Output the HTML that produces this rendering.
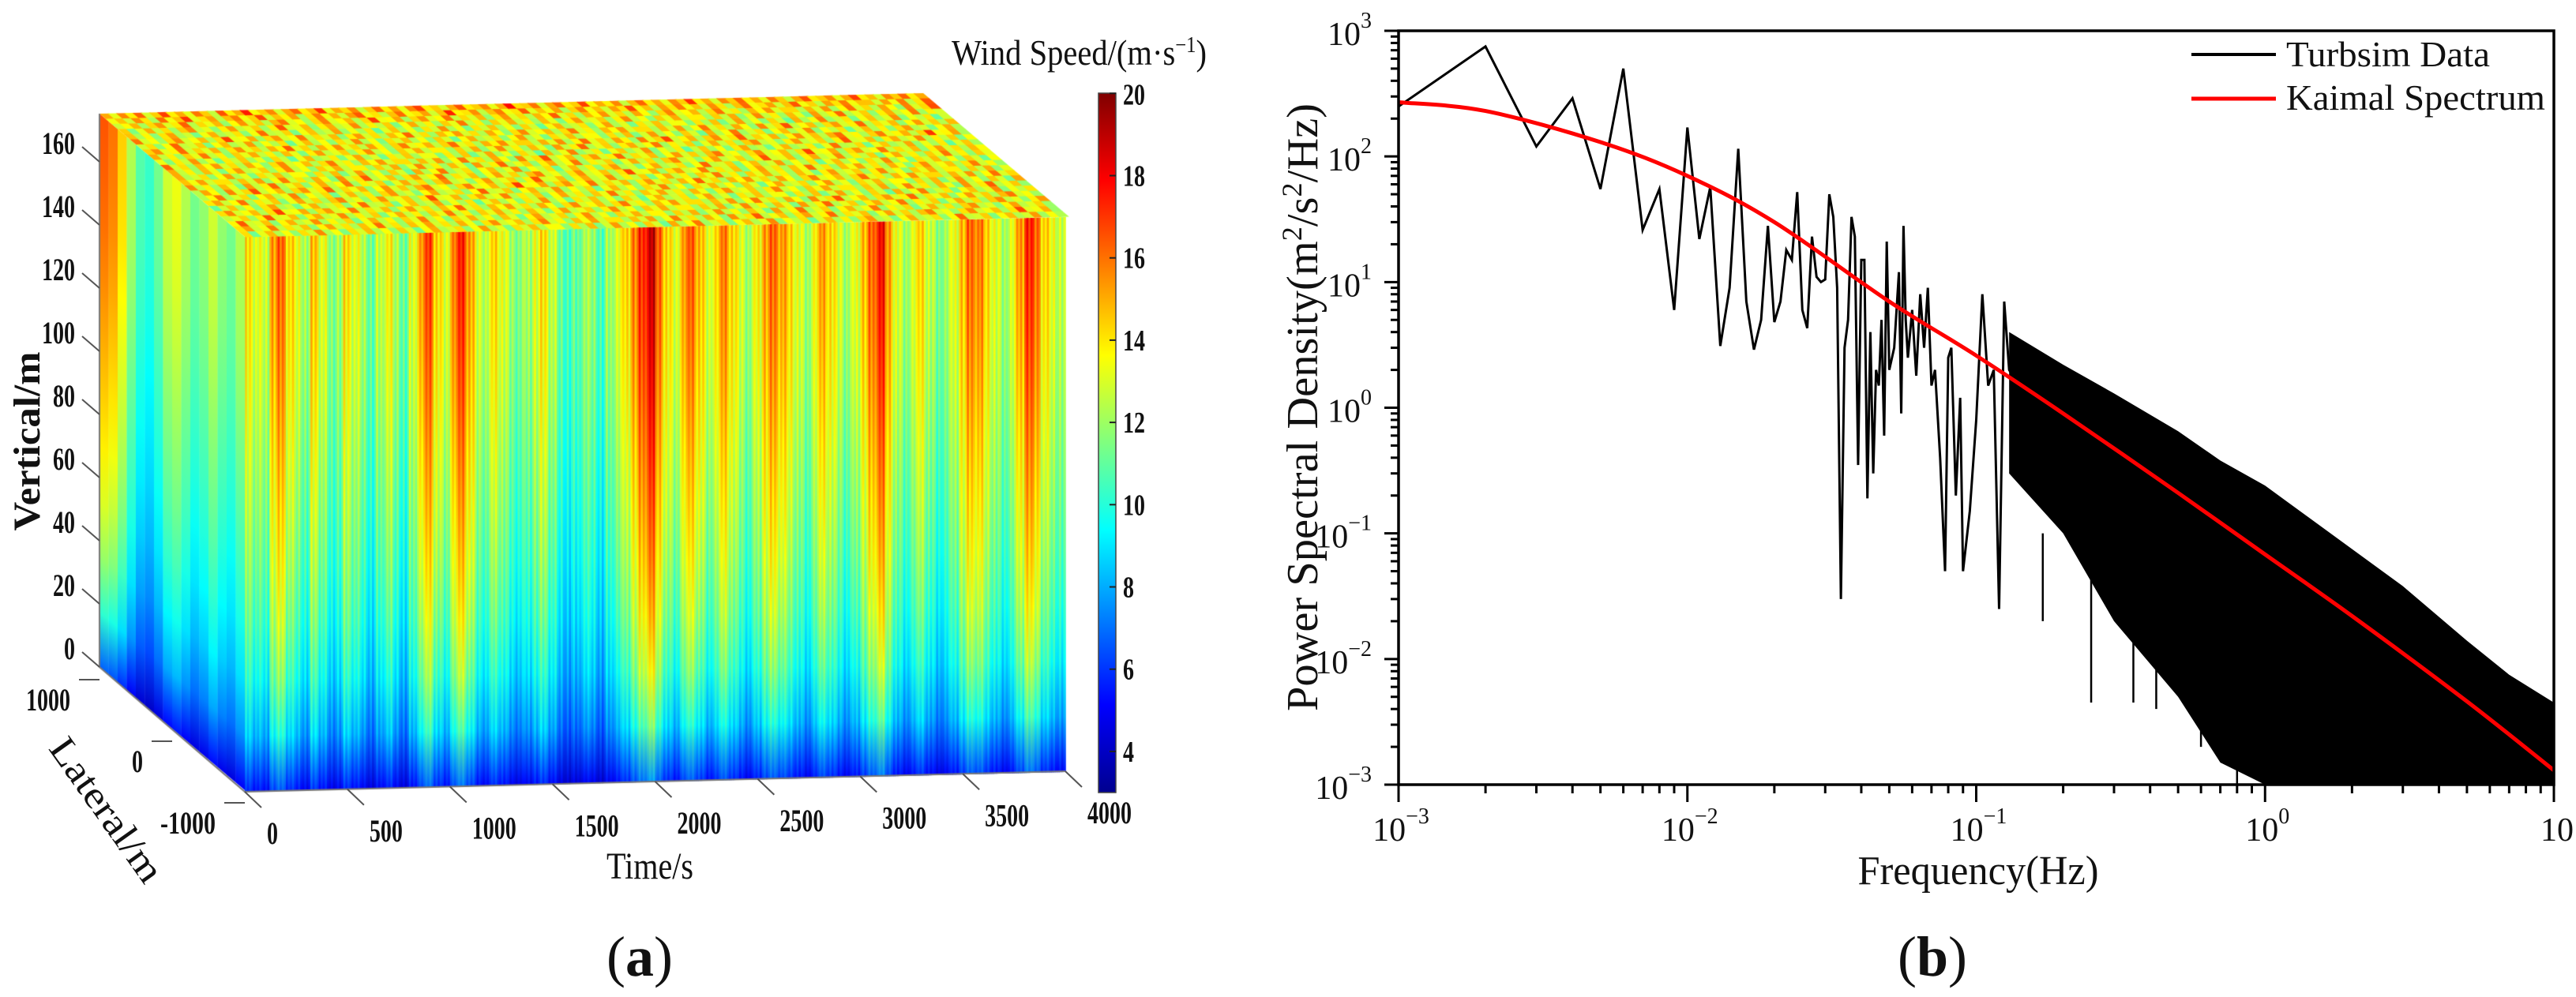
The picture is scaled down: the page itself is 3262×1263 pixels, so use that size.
<!DOCTYPE html>
<html>
<head>
<meta charset="utf-8">
<style>
html,body{margin:0;padding:0;background:#fff;}
#wrap{position:relative;width:3262px;height:1263px;overflow:hidden;background:#fff;}
canvas,svg{position:absolute;left:0;top:0;}
svg text{font-family:"Liberation Serif","Times New Roman",serif;fill:#111;}
</style>
</head>
<body>
<div id="wrap">
<canvas id="cube" width="1500" height="1100"></canvas>
<svg id="svg" width="3262" height="1263" viewBox="0 0 3262 1263" font-family="Liberation Serif, serif">
  <defs>
    <linearGradient id="jetbar" x1="0" y1="1" x2="0" y2="0">
      <stop offset="0" stop-color="#00008f"/>
      <stop offset="0.125" stop-color="#0000ff"/>
      <stop offset="0.375" stop-color="#00ffff"/>
      <stop offset="0.625" stop-color="#ffff00"/>
      <stop offset="0.875" stop-color="#ff0000"/>
      <stop offset="1" stop-color="#800000"/>
    </linearGradient>
  </defs>
  <g id="leftAxes"></g>
  <g id="rightAxes"></g>
  <text x="810" y="1236" text-anchor="middle" font-size="72" font-family="Liberation Serif, serif">(<tspan font-weight="bold">a</tspan>)</text>
  <text x="2447" y="1236" text-anchor="middle" font-size="72" font-family="Liberation Serif, serif">(<tspan font-weight="bold">b</tspan>)</text>
</svg>
</div>
<script>
// ---------------- Left panel data ----------------
const timeVals = [14,13,12.5,15,16,14,13,12,14.5,13,11.5,12,14,13,12,11,12.5,13.5,12,11,
 13,15,16.5,14,13,15.5,17,15,13,12.5,14,13,12,11.5,12,13,14,12.5,11,10.5,
 11,12,11.5,10.5,12,13,14,15.5,17,18.5,16,14,13,15,16,14.5,13,14,15.5,14,
 13,12,13.5,15,16,15,14,13,12,13.5,15,14,13,12,13,14.5,16,17.5,15,13,
 12,13,14,12.5,11.5,12,13,14.5,16,15.5,14,13,12,13,15,17,16,14,13,12.5];
const fineVar = [0.7,-0.9,0.3,-0.5];
const profZ = [0,10,20,40,60,80,100,120,140,160,175];
const profF = [0.42,0.55,0.66,0.77,0.84,0.89,0.93,0.97,1.0,1.02,1.03];
const latVals = [16,15.5,14,12,10.5,10,11,12.5,13,12,11,11.5,12.5,11.5,11,12];
const topVals = [14,11,15,12,16,10.5,13,17,12,14,11,15.5,13,10,16.5,12,14,18,11.5,13,
 15,10.5,14,16,12,13.5,17.5,11,14,12.5,15,10,13,16,12,14.5,11,15,17,12,
 13,10.5,14,16.5,12,13,15,11,14,18.5,12.5,13,15.5,10.5,14,16,12,13,17,11.5,
 14,12,15,10,13.5,16,12,14,11,15,13,17.5,12,14,10.5,15,13,16,12,14,
 11,15.5,13,10,14,16.5,12,13,15,11,14,17,12,13.5,10.5,15,13,16,12,14];
const latDelta = [1.2,0.8,0.4,0,-0.4,0.3,-0.3,0.5,0,-0.5,0.3,0,-0.3,0.2,0,0.4,-0.2,0.1,-0.4,0.3,0,-0.1,0.2,-0.3];
const cbTicks = [4,6,8,10,12,14,16,18,20];
const vTicks = [0,20,40,60,80,100,120,140,160];
const latTicks = [1000,0,-1000];
const tTicks = [0,500,1000,1500,2000,2500,3000,3500,4000];

function jet(v){
  let t=(v-3)/17; t=Math.max(0,Math.min(1,t));
  const c=x=>Math.round(255*Math.max(0,Math.min(1,x)));
  return `rgb(${c(1.5-Math.abs(4*t-3))},${c(1.5-Math.abs(4*t-2))},${c(1.5-Math.abs(4*t-1))})`;
}
function prof(z){
  for(let i=1;i<profZ.length;i++){ if(z<=profZ[i]){const a=(z-profZ[i-1])/(profZ[i]-profZ[i-1]);return profF[i-1]+a*(profF[i]-profF[i-1]);} }
  return profF[profF.length-1];
}
const ctx=document.getElementById('cube').getContext('2d');
function colGrad(base){
  const g=ctx.createLinearGradient(0,0,0,1);
  for(let k=0;k<=10;k++){const z=175*(1-k/10);g.addColorStop(k/10,jet(base*prof(z)));}
  return g;
}
// front face
ctx.setTransform(1039,-25,0,703,310,300);
const nT=timeVals.length, sub=fineVar.length;
for(let i=0;i<nT;i++){
  for(let s=0;s<sub;s++){
    const u0=(i*sub+s)/(nT*sub);
    ctx.fillStyle=colGrad(timeVals[i]+fineVar[(s+i)%sub]);
    ctx.fillRect(u0,0,1/(nT*sub)+0.0008,1);
  }
}
// side face
ctx.setTransform(184,156,0,701,126,144);
const nL=latVals.length;
for(let j=0;j<nL;j++){
  ctx.fillStyle=colGrad(latVals[j]);
  ctx.fillRect(j/nL,0,1/nL+0.002,1);
}
// top face
ctx.setTransform(1041,-26,184,156,126,144);
const nR=latDelta.length;
for(let i=0;i<nT;i++){
  for(let j=0;j<nR;j++){
    const raw=topVals[(i+7*j+(j*j)%11)%nT];
    ctx.fillStyle=jet(13.6+(raw-13.6)*0.6+latDelta[j]);
    ctx.fillRect(i/nT,j/nR,1/nT+0.002,1/nR+0.004);
  }
}
ctx.setTransform(1,0,0,1,0,0);
ctx.strokeStyle='#777';ctx.lineWidth=2;
ctx.beginPath();ctx.moveTo(126,144);ctx.lineTo(126,845);ctx.lineTo(310,1003);ctx.lineTo(1349,977);ctx.stroke();

const NS='http://www.w3.org/2000/svg';
function el(tag,attrs,parent,txt){const e=document.createElementNS(NS,tag);for(const k in attrs)e.setAttribute(k,attrs[k]);if(tag==='text')e.setAttribute('font-family','Liberation Serif, serif');if(txt!==undefined)e.textContent=txt;parent.appendChild(e);return e;}
const L=document.getElementById('leftAxes');
const zY=z=>845-z*4;
vTicks.forEach(v=>{
  const t=el('line',{x1:104,y1:zY(v)-19,x2:126,y2:zY(v),stroke:'#555','stroke-width':2},L);
  
  
  const lb=el('text',{x:95,y:zY(v)-10,'text-anchor':'end','font-size':40,'font-weight':'bold',textLength:String(v).length*14,lengthAdjust:'spacingAndGlyphs'},L,String(v));
  
  
});
const latPos=v=>{const a=(1000-v)/2000;return {x:126+a*184,y:845+a*156};};
latTicks.forEach(v=>{
  const p=latPos(v);
  const t=el('line',{x1:p.x-26,y1:p.y+16,x2:p.x,y2:p.y+16,stroke:'#555','stroke-width':2},L);
  
  
  const lb=el('text',{x:p.x-37,y:p.y+55,'text-anchor':'end','font-size':40,'font-weight':'bold',textLength:String(v).length*14,lengthAdjust:'spacingAndGlyphs'},L,String(v));
  
  
});
const tPos=v=>({x:310+v/4000*1039,y:1003-v/4000*26});
tTicks.forEach(v=>{
  const p=tPos(v);
  const t=el('line',{x1:p.x,y1:p.y,x2:p.x+21,y2:p.y+20,stroke:'#555','stroke-width':2},L);
  
  
  const lb=el('text',{x:p.x+28,y:p.y+66,'font-size':40,'font-weight':'bold',textLength:String(v).length*14,lengthAdjust:'spacingAndGlyphs'},L,String(v));
  
  
});
let tl=el('text',{x:823,y:1113,'text-anchor':'middle','font-size':48,textLength:110,lengthAdjust:'spacingAndGlyphs'},L,'Time/s');

tl=el('text',{x:0,y:0,'text-anchor':'middle','font-size':48,'font-weight':'bold',textLength:227,lengthAdjust:'spacingAndGlyphs',transform:'translate(50,559) rotate(-90)'},L,'Vertical/m');

tl=el('text',{x:0,y:0,'text-anchor':'middle','font-size':48,textLength:213,lengthAdjust:'spacingAndGlyphs',transform:'translate(122,1035) rotate(54.7)'},L,'Lateral/m');

const cbY=v=>1004-(v-3)*52.1;
el('rect',{x:1391,y:118,width:22,height:886,fill:'url(#jetbar)',stroke:'#444','stroke-width':1.5,},L);
cbTicks.forEach(v=>{
  const t=el('line',{x1:1405,y1:cbY(v),x2:1413,y2:cbY(v),stroke:'#222','stroke-width':2},L);
  
  
  const lb=el('text',{x:1422,y:cbY(v)+(v===20?14:13),'font-size':38,'font-weight':'bold',textLength:String(v).length*14,lengthAdjust:'spacingAndGlyphs'},L,String(v));
  
  
});
tl=el('text',{x:1205,y:82,'font-size':46,textLength:323,lengthAdjust:'spacingAndGlyphs'},L);
tl.innerHTML='Wind Speed/(m·s<tspan dy="-16" font-size="28">−1</tspan><tspan dy="16">)</tspan>';


// ---------------- Right panel data ----------------
const sparseF=[.001,.002,.003,.004,.005,.006,.007,.008,.009,.010,.011,.012,.013,.014,.015,.016,.017,.018,.019,.020,
 .021,.022,.023,.024,.025,.026,.027,.028,.029,.030,.031,.032,.033,.034,.035,.036,.037,.038,.039,.040,
 .041,.042,.043,.044,.045,.046,.047,.048,.049,.050,.052,.054,.055,.056,.057,.058,.060,.062,.064,.066,
 .068,.070,.072,.075,.078,.080,.082,.085,.088,.090,.095,.100,.105,.110,.115,.120,.125,.130,.140,.150];
const sparseP=[250,750,120,290,55,500,26,55,6,170,22,57,3.1,9,115,7,2.9,5,28,4.8,
 7,18,15,52,6,4.3,23,11,10,10.5,50,33,9,0.03,3,5,33,23,0.35,15,
 15,0.19,4,0.3,2,1.5,5,0.6,21,2,3,12,0.9,28,5,2.5,6,1.8,8,3,
 9,1.5,2,0.4,0.05,2.5,3,0.2,1.2,0.05,0.15,0.8,8,1.5,2,0.025,7,2,1.5,0.5];
const bandF=[0.13,0.2,0.3,0.5,0.7,1,2,3,5,7,10];
const bandUpper=[4,2.2,1.3,0.65,0.38,0.24,0.075,0.038,0.014,0.0075,0.0045];
const bandLower=[0.3,0.1,0.02,0.005,0.0015,0.001,0.001,0.001,0.001,0.001,0.001];
const spikeF=[0.17,0.25,0.35,0.42,0.6,0.8];
const spikeP=[0.02,0.0045,0.0045,0.004,0.002,0.001];
const kaimalF=[0.001,0.002,0.005,0.01,0.02,0.05,0.1,0.2,0.5,1,2,5,10];
const kaimalP=[270,230,130,70,30,7,2.6,0.9,0.21,0.068,0.022,0.0046,0.0013];
const xTickExp=[-3,-2,-1,0];
const yTickExp=[-3,-2,-1,0,1,2,3];

const AX={l:1771,r:3234,t:39,b:994};
const X=f=>AX.l+(Math.log10(f)+3)/4*(AX.r-AX.l);
const Y=p=>AX.b-(Math.log10(p)+3)/6*(AX.b-AX.t);
const R=document.getElementById('rightAxes');
let pts=bandF.map((f,i)=>X(f)+','+Y(bandUpper[i]));
for(let i=bandF.length-1;i>=0;i--)pts.push(X(bandF[i])+','+Y(bandLower[i]));
el('polygon',{points:pts.join(' '),fill:'#000',},R);
spikeF.forEach((f,i)=>{
  const s=el('line',{x1:X(f),y1:Y(0.1),x2:X(f),y2:Y(spikeP[i]),stroke:'#000','stroke-width':2.5},R);
  
  
});
el('polyline',{points:sparseF.map((f,i)=>X(f)+','+Y(sparseP[i])).join(' '),fill:'none',stroke:'#000','stroke-width':3,},R);
const kp=kaimalF.map((f,i)=>[X(f),Y(kaimalP[i])]);
let d='M'+kp[0][0]+','+kp[0][1];
for(let i=0;i<kp.length-1;i++){
  const p0=kp[Math.max(0,i-1)],p1=kp[i],p2=kp[i+1],p3=kp[Math.min(kp.length-1,i+2)];
  d+=` C${p1[0]+(p2[0]-p0[0])/6},${p1[1]+(p2[1]-p0[1])/6} ${p2[0]-(p3[0]-p1[0])/6},${p2[1]-(p3[1]-p1[1])/6} ${p2[0]},${p2[1]}`;
}
el('path',{d:d,fill:'none',stroke:'#ff0000','stroke-width':5,},R);
el('rect',{x:AX.l,y:AX.t,width:AX.r-AX.l,height:AX.b-AX.t,fill:'none',stroke:'#000','stroke-width':3.5,},R);
xTickExp.forEach(e=>{
  for(let m=1;m<=9;m++){
    const f=m*Math.pow(10,e);
    const t=el('line',{x1:X(f),y1:AX.b,x2:X(f),y2:AX.b+(m===1?22:11),stroke:'#000','stroke-width':3},R);
    
    
  }
  const lb=el('text',{x:X(Math.pow(10,e))+3,y:1065,'text-anchor':'middle','font-size':42},R);
  lb.innerHTML=`10<tspan dy="-22" font-size="28">${e<0?'−'+(-e):e}</tspan>`;
  
  
});
let t10=el('line',{x1:AX.r,y1:AX.b,x2:AX.r,y2:AX.b+22,stroke:'#000','stroke-width':3},R);

t10=el('text',{x:AX.r+4,y:1065,'text-anchor':'middle','font-size':42},R,'10');

yTickExp.forEach(e=>{
  for(let m=1;m<=9;m++){
    const p=m*Math.pow(10,e); if(Math.log10(p)>3.0001)continue;
    const t=el('line',{x1:AX.l,y1:Y(p),x2:AX.l-(m===1?18:10),y2:Y(p),stroke:'#000','stroke-width':3},R);
    
    
  }
  const lb=el('text',{x:1737,y:Y(Math.pow(10,e))+18,'text-anchor':'end','font-size':42},R);
  lb.innerHTML=`10<tspan dy="-22" font-size="28">${e<0?'−'+(-e):e}</tspan>`;
  
  
});
tl=el('text',{x:2505,y:1120,'text-anchor':'middle','font-size':52,textLength:305,lengthAdjust:'spacingAndGlyphs'},R,'Frequency(Hz)');

tl=el('text',{x:0,y:0,'text-anchor':'middle','font-size':56,textLength:770,lengthAdjust:'spacingAndGlyphs',transform:'translate(1668,516) rotate(-90)'},R);
tl.innerHTML='Power Spectral Density(m<tspan dy="-20" font-size="36">2</tspan><tspan dy="20">/s</tspan><tspan dy="-20" font-size="36">2</tspan><tspan dy="20">/Hz)</tspan>';

const lg=el('g',{},R);


el('line',{x1:2775,y1:69,x2:2882,y2:69,stroke:'#000','stroke-width':4,},lg);
el('text',{x:2895,y:84,'font-size':46,textLength:258,lengthAdjust:'spacingAndGlyphs',},lg,'Turbsim Data');
el('line',{x1:2775,y1:125,x2:2882,y2:125,stroke:'#ff0000','stroke-width':5,},lg);
el('text',{x:2895,y:139,'font-size':46,textLength:328,lengthAdjust:'spacingAndGlyphs',},lg,'Kaimal Spectrum');
</script>
</body>
</html>
